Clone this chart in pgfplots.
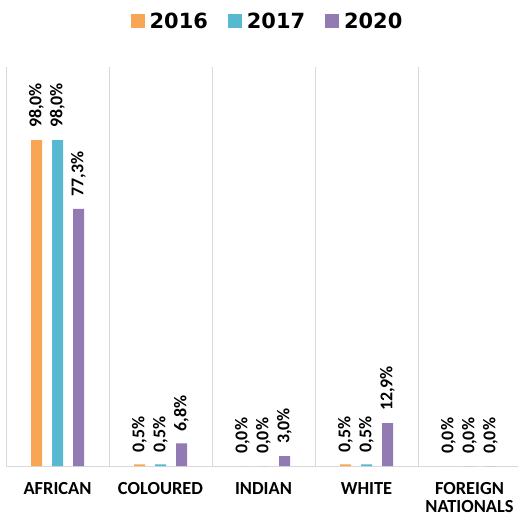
\documentclass[border=0pt]{standalone}
\usepackage{pgfplots}
\pgfplotsset{compat=1.18}
\usepackage{fontspec}
\setmainfont{Carlito}
\newfontfamily\legfont{DejaVu Sans}
\definecolor{c16}{RGB}{249,166,84}
\definecolor{c17}{RGB}{87,185,209}
\definecolor{c20}{RGB}{146,122,178}
\definecolor{gridc}{RGB}{217,217,217}
\begin{document}
\begin{tikzpicture}
\useasboundingbox (0,0) rectangle (518bp,519bp);
\begin{axis}[
  at={(6bp,53bp)}, anchor=south west,
  scale only axis, width=515bp, height=399bp,
  xmin=-0.5, xmax=4.5, ymin=0, ymax=120,
  ybar, bar width=11bp,
  axis y line=none,
  axis x line*=bottom,
  x axis line style={gridc, line width=1pt, -},
  xtick={0,1,2,3,4},
  xticklabels={AFRICAN,COLOURED,INDIAN,WHITE,FOREIGN NATIONALS},
  major tick length=0pt,
  xticklabel style={font=\fontsize{18.5}{18}\selectfont\bfseries, align=center, text width=100bp, yshift=-13bp},
  minor xtick={-0.5,0.5,1.5,2.5,3.5},
  xminorgrids, minor grid style={gridc, line width=1pt},
  minor tick length=0pt,
  clip=false,
  point meta=explicit symbolic,
  nodes near coords,
  nodes near coords style={rotate=90, anchor=west, inner sep=0pt, xshift=12bp, font=\fontsize{18}{18}\selectfont\bfseries, text=black},
  legend columns=3,
  legend style={at={(axis description cs:0.5,1)}, anchor=south, yshift=33bp, xshift=4bp, draw=none, font=\legfont\bfseries\fontsize{21}{21}\selectfont, /tikz/every even column/.append style={column sep=18bp}, /tikz/every odd column/.append style={column sep=3bp}},
  legend image code/.code={\fill[#1] (0bp,-7bp) rectangle (14bp,7bp);},
]
\addplot[fill=c16, draw=none, bar shift=-21bp] coordinates {(0,98) [98,0\%] (1,0.5) [0,5\%] (2,0) [0,0\%] (3,0.5) [0,5\%] (4,0) [0,0\%]};
\addplot[fill=c17, draw=none, bar shift=0bp] coordinates {(0,98) [98,0\%] (1,0.5) [0,5\%] (2,0) [0,0\%] (3,0.5) [0,5\%] (4,0) [0,0\%]};
\addplot[fill=c20, draw=none, bar shift=21bp] coordinates {(0,77.3) [77,3\%] (1,6.8) [6,8\%] (2,3.0) [3,0\%] (3,12.9) [12,9\%] (4,0) [0,0\%]};
\legend{2016,2017,2020}
\end{axis}
\end{tikzpicture}
\end{document}
